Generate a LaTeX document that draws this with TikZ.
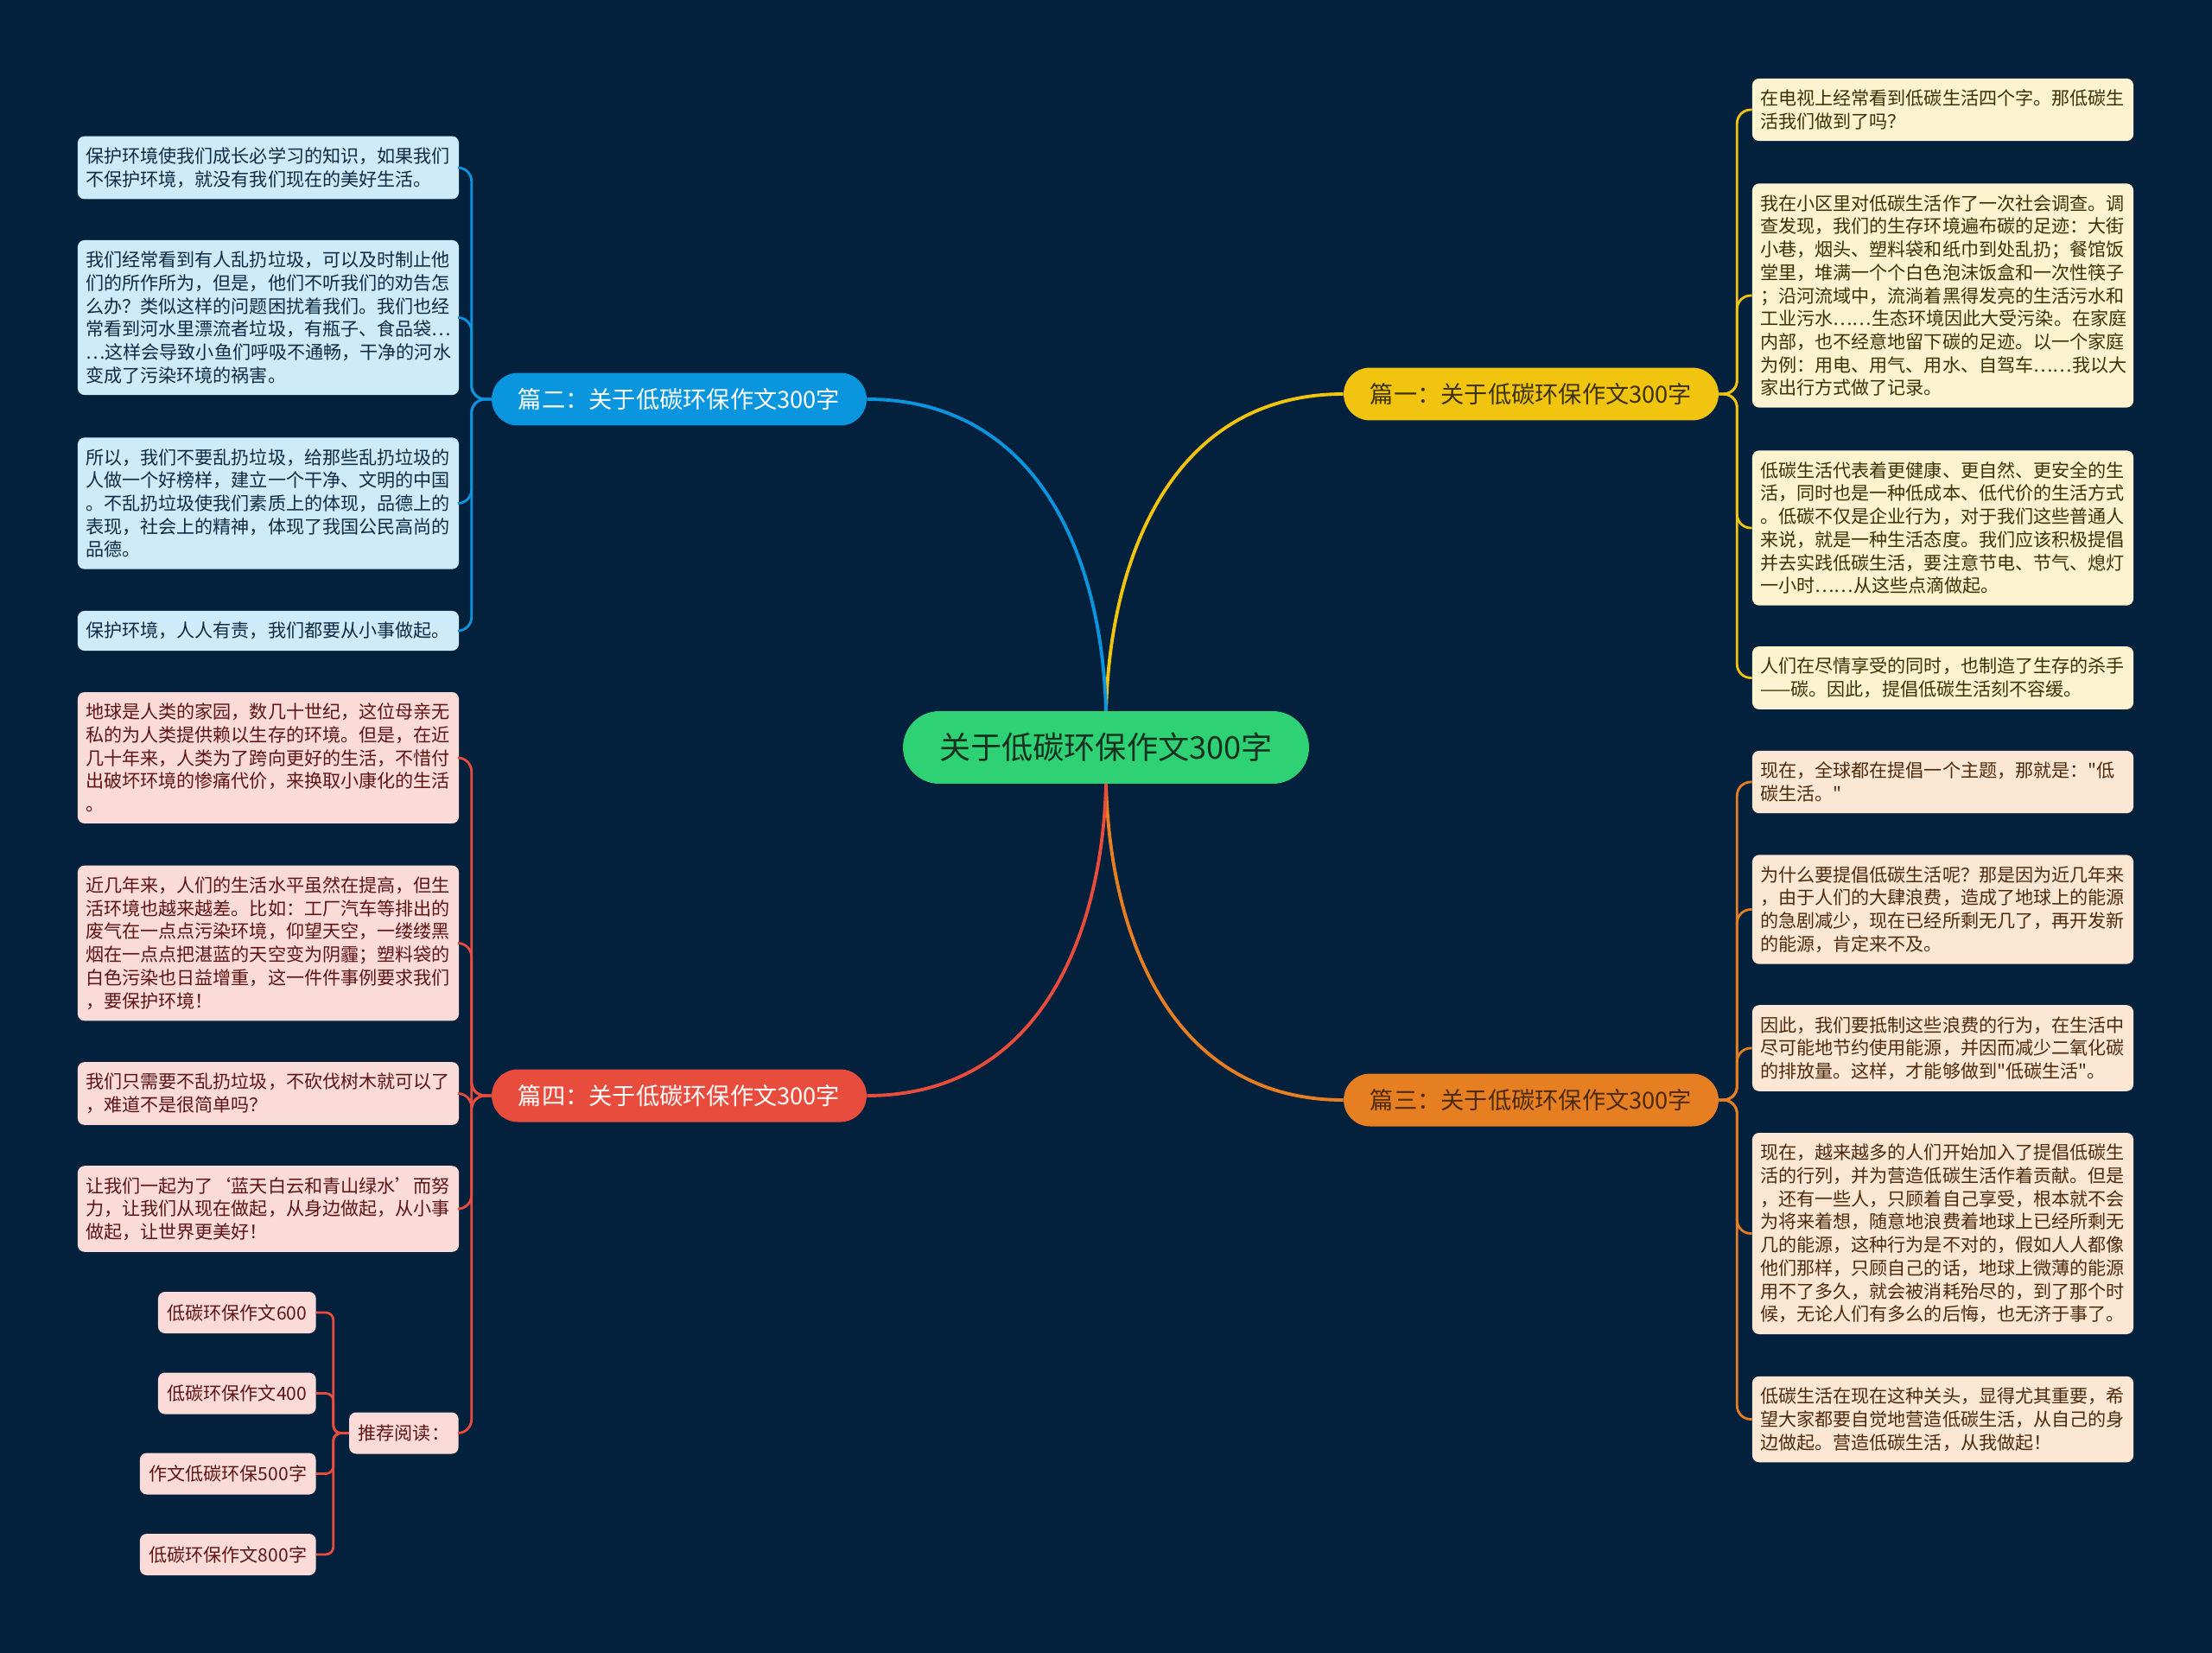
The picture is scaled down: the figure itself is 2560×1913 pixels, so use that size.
\documentclass[tikz,border=0pt]{standalone}
\usepackage{fontspec}
\newfontfamily\cjk{Noto Sans CJK SC}
\usepackage{tikz}
\usetikzlibrary{positioning}
\setlength{\parindent}{0pt}
\definecolor{MapNavy}{HTML}{03203D}
\definecolor{MapGreen}{HTML}{2FD175}
\definecolor{RootInk}{HTML}{17301F}
\definecolor{MapYellow}{HTML}{F1C40F}
\definecolor{MapBlue}{HTML}{0A96DE}
\definecolor{MapOrange}{HTML}{E67E22}
\definecolor{MapRed}{HTML}{E74C3C}
\definecolor{BlueLeaf}{HTML}{CFEAF8}
\definecolor{YellowLeaf}{HTML}{FCF3D1}
\definecolor{OrangeLeaf}{HTML}{FCE6D4}
\definecolor{RedLeaf}{HTML}{FADBD8}
\definecolor{BlueInk}{HTML}{0E2A44}
\definecolor{YellowInk}{HTML}{3B3200}
\definecolor{OrangeInk}{HTML}{4D2A0C}
\definecolor{RedInk}{HTML}{5E1414}

\begin{document}
\begin{tikzpicture}[x=0.02cm,y=-0.02cm,
      root/.style={rectangle,rounded corners=0.84cm,fill=MapGreen,text=RootInk,
        minimum width=9.4cm,minimum height=1.68cm,
        font=\cjk\fontsize{20.6}{24}\selectfont},
      topic/.style={rectangle,rounded corners=0.61cm,minimum width=8.68cm,
        minimum height=1.22cm,font=\cjk\fontsize{15.5}{18}\selectfont},
      leaf/.style={rectangle,rounded corners=4.5pt,text width=240.5pt,align=left,
        inner xsep=5.3pt,inner ysep=7.4pt,font=\cjk\fontsize{12}{15.2}\selectfont},
      blueleaf/.style={leaf,fill=BlueLeaf,text=BlueInk},
      yellowleaf/.style={leaf,fill=YellowLeaf,text=YellowInk},
      orangeleaf/.style={leaf,fill=OrangeLeaf,text=OrangeInk},
      redleaf/.style={leaf,fill=RedLeaf,text=RedInk},
      tag/.style={rectangle,rounded corners=4.5pt,inner xsep=6pt,inner ysep=0pt,
        minimum height=0.96cm,fill=RedLeaf,text=RedInk,
        font=\cjk\fontsize{12}{15.2}\selectfont},
      trunk/.style={line width=2.2pt},
      twig/.style={line width=1.6pt,rounded corners=9pt}
    ]
      \fill[MapNavy] (0,0) rectangle (2560,1913);

      % centre and the four topics
      \node[root] (root) at (1280,865) {关于低碳环保作文300字};
      \node[topic,fill=MapYellow,text=YellowInk] (p1) at (1772,456) {篇一：关于低碳环保作文300字};
      \node[topic,fill=MapBlue,text=white] (p2) at (786,462) {篇二：关于低碳环保作文300字};
      \node[topic,fill=MapOrange,text=OrangeInk] (p3) at (1772,1273) {篇三：关于低碳环保作文300字};
      \node[topic,fill=MapRed,text=white] (p4) at (786,1268) {篇四：关于低碳环保作文300字};

      \draw[trunk,MapYellow] (root.north) .. controls +(5,-183) and +(-195,0) .. (p1.west);
      \draw[trunk,MapBlue] (root.north) .. controls +(-5,-183) and +(195,0) .. (p2.east);
      \draw[trunk,MapOrange] (root.south) .. controls +(5,183) and +(-195,0) .. (p3.west);
      \draw[trunk,MapRed] (root.south) .. controls +(-5,183) and +(195,0) .. (p4.east);

      % 篇一
      \node[yellowleaf] (y1) at (2248.5,127) {在电视上经常看到低碳生活四个字。那低碳生\\活我们做到了吗？};
      \node[yellowleaf] (y2) at (2248.5,342) {我在小区里对低碳生活作了一次社会调查。调\\查发现，我们的生存环境遍布碳的足迹：大街\\小巷，烟头、塑料袋和纸巾到处乱扔；餐馆饭\\堂里，堆满一个个白色泡沫饭盒和一次性筷子\\；沿河流域中，流淌着黑得发亮的生活污水和\\工业污水……生态环境因此大受污染。在家庭\\内部，也不经意地留下碳的足迹。以一个家庭\\为例：用电、用气、用水、自驾车……我以大\\家出行方式做了记录。};
      \node[yellowleaf] (y3) at (2248.5,611) {低碳生活代表着更健康、更自然、更安全的生\\活，同时也是一种低成本、低代价的生活方式\\。低碳不仅是企业行为，对于我们这些普通人\\来说，就是一种生活态度。我们应该积极提倡\\并去实践低碳生活，要注意节电、节气、熄灯\\一小时……从这些点滴做起。};
      \node[yellowleaf] (y4) at (2248.5,784.5) {人们在尽情享受的同时，也制造了生存的杀手\\——碳。因此，提倡低碳生活刻不容缓。};
      \foreach \n in {y1,y2,y3,y4}
        \draw[twig,MapYellow] (p1.east) -- ++(21,0) |- (\n.west);

      % 篇二
      \node[blueleaf] (b1) at (310.5,194) {保护环境使我们成长必学习的知识，如果我们\\不保护环境，就没有我们现在的美好生活。};
      \node[blueleaf] (b2) at (310.5,367.5) {我们经常看到有人乱扔垃圾，可以及时制止他\\们的所作所为，但是，他们不听我们的劝告怎\\么办？类似这样的问题困扰着我们。我们也经\\常看到河水里漂流者垃圾，有瓶子、食品袋…\\…这样会导致小鱼们呼吸不通畅，干净的河水\\变成了污染环境的祸害。};
      \node[blueleaf] (b3) at (310.5,582.5) {所以，我们不要乱扔垃圾，给那些乱扔垃圾的\\人做一个好榜样，建立一个干净、文明的中国\\。不乱扔垃圾使我们素质上的体现，品德上的\\表现，社会上的精神，体现了我国公民高尚的\\品德。};
      \node[blueleaf] (b4) at (310.5,730) {保护环境，人人有责，我们都要从小事做起。};
      \foreach \n in {b1,b2,b3,b4}
        \draw[twig,MapBlue] (p2.west) -- ++(-23,0) |- (\n.east);

      % 篇三
      \node[orangeleaf] (o1) at (2248.5,905) {现在，全球都在提倡一个主题，那就是："低\\碳生活。"};
      \node[orangeleaf] (o2) at (2248.5,1052.5) {为什么要提倡低碳生活呢？那是因为近几年来\\，由于人们的大肆浪费，造成了地球上的能源\\的急剧减少，现在已经所剩无几了，再开发新\\的能源，肯定来不及。};
      \node[orangeleaf] (o3) at (2248.5,1213) {因此，我们要抵制这些浪费的行为，在生活中\\尽可能地节约使用能源，并因而减少二氧化碳\\的排放量。这样，才能够做到"低碳生活"。};
      \node[orangeleaf] (o4) at (2248.5,1427.5) {现在，越来越多的人们开始加入了提倡低碳生\\活的行列，并为营造低碳生活作着贡献。但是\\，还有一些人，只顾着自己享受，根本就不会\\为将来着想，随意地浪费着地球上已经所剩无\\几的能源，这种行为是不对的，假如人人都像\\他们那样，只顾自己的话，地球上微薄的能源\\用不了多久，就会被消耗殆尽的，到了那个时\\候，无论人们有多么的后悔，也无济于事了。};
      \node[orangeleaf] (o5) at (2248.5,1642.5) {低碳生活在现在这种关头，显得尤其重要，希\\望大家都要自觉地营造低碳生活，从自己的身\\边做起。营造低碳生活，从我做起！};
      \foreach \n in {o1,o2,o3,o4,o5}
        \draw[twig,MapOrange] (p3.east) -- ++(21,0) |- (\n.west);

      % 篇四
      \node[redleaf] (r1) at (310.5,877) {地球是人类的家园，数几十世纪，这位母亲无\\私的为人类提供赖以生存的环境。但是，在近\\几十年来，人类为了跨向更好的生活，不惜付\\出破坏环境的惨痛代价，来换取小康化的生活\\。};
      \node[redleaf] (r2) at (310.5,1091.5) {近几年来，人们的生活水平虽然在提高，但生\\活环境也越来越差。比如：工厂汽车等排出的\\废气在一点点污染环境，仰望天空，一缕缕黑\\烟在一点点把湛蓝的天空变为阴霾；塑料袋的\\白色污染也日益增重，这一件件事例要求我们\\，要保护环境！};
      \node[redleaf] (r3) at (310.5,1265.5) {我们只需要不乱扔垃圾，不砍伐树木就可以了\\，难道不是很简单吗？};
      \node[redleaf] (r4) at (310.5,1399) {让我们一起为了‘蓝天白云和青山绿水’而努\\力，让我们从现在做起，从身边做起，从小事\\做起，让世界更美好！};
      \node[tag,anchor=east] (tj) at (531,1658.5) {推荐阅读：};
      \foreach \n in {r1,r2,r3,r4,tj}
        \draw[twig,MapRed] (p4.west) -- ++(-23,0) |- (\n.east);

      % 推荐阅读
      \node[tag,anchor=east] (k1) at (366,1519) {低碳环保作文600};
      \node[tag,anchor=east] (k2) at (366,1612.5) {低碳环保作文400};
      \node[tag,anchor=east] (k3) at (366,1705.5) {作文低碳环保500字};
      \node[tag,anchor=east] (k4) at (366,1799) {低碳环保作文800字};
      \foreach \n in {k1,k2,k3,k4}
        \draw[twig,MapRed,rounded corners=5pt] (tj.west) -- ++(-18,0) |- (\n.east);
    \end{tikzpicture}
\end{document}
